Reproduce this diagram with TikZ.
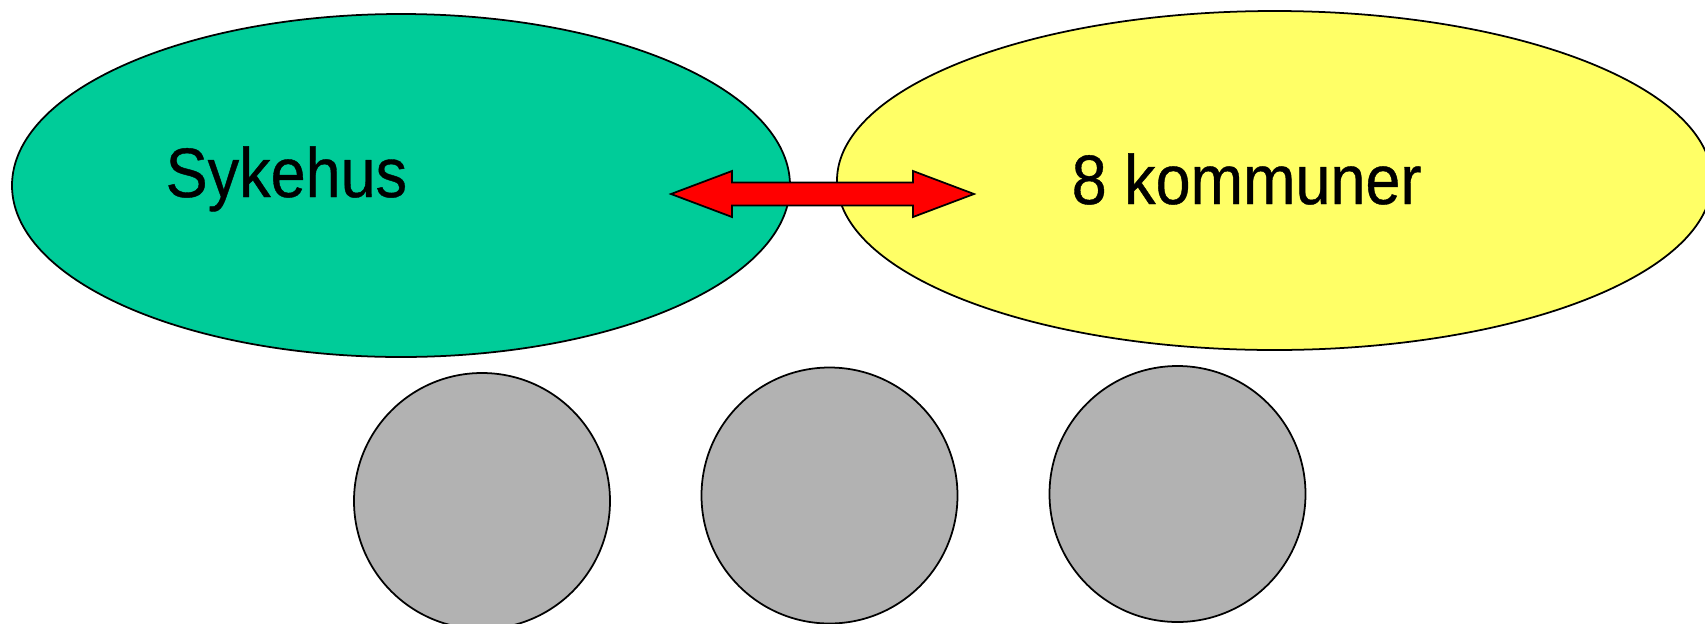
\documentclass[tikz,border=0pt]{standalone}
\usepackage{fontspec}
\setmainfont{Liberation Sans}
\newfontfamily\lblfont[FakeBold=0.6]{Liberation Sans}
\usetikzlibrary{shapes.geometric}
\definecolor{hosp}{RGB}{0,204,153}
\definecolor{muni}{RGB}{255,255,102}
\definecolor{greyc}{RGB}{178,178,178}
\tikzset{
  blob/.style={ellipse, draw=black, line width=0.5pt, inner sep=0pt},
  disc/.style={circle, draw=black, line width=0.5pt, fill=greyc, inner sep=0pt, minimum size=2.56cm},
  lbl/.style={inner sep=0pt, anchor=base west, font=\lblfont\fontsize{19.9}{24}\selectfont},
  bigarrow/.style={draw=black, line width=0.5pt, fill=red, line join=miter}
}
\begin{document}
\begin{tikzpicture}
\useasboundingbox (0,0) rectangle (17.05,-6.23);
\node[blob, fill=hosp, minimum width=7.78cm, minimum height=3.43cm] (sykehus) at (4.01,-1.855) {};
\node[blob, fill=muni, minimum width=8.75cm, minimum height=3.39cm] (kommuner) at (12.745,-1.805) {};
\node[lbl] (t1) at (1.65,-1.97) {\scalebox{0.9}[1]{Sykehus}};
\node[lbl] (t2) at (10.71,-2.04) {\scalebox{0.9}[1]{8 kommuner}};
\draw[bigarrow] (6.71,-1.94) -- (7.32,-1.71) -- (7.32,-1.825) -- (9.13,-1.825) -- (9.13,-1.71)
  -- (9.74,-1.94) -- (9.13,-2.17) -- (9.13,-2.055) -- (7.32,-2.055) -- (7.32,-2.17) -- cycle;
\node[disc] (c1) at (4.82,-5.01) {};
\node[disc] (c2) at (8.295,-4.955) {};
\node[disc] (c3) at (11.775,-4.94) {};
\end{tikzpicture}
\end{document}
